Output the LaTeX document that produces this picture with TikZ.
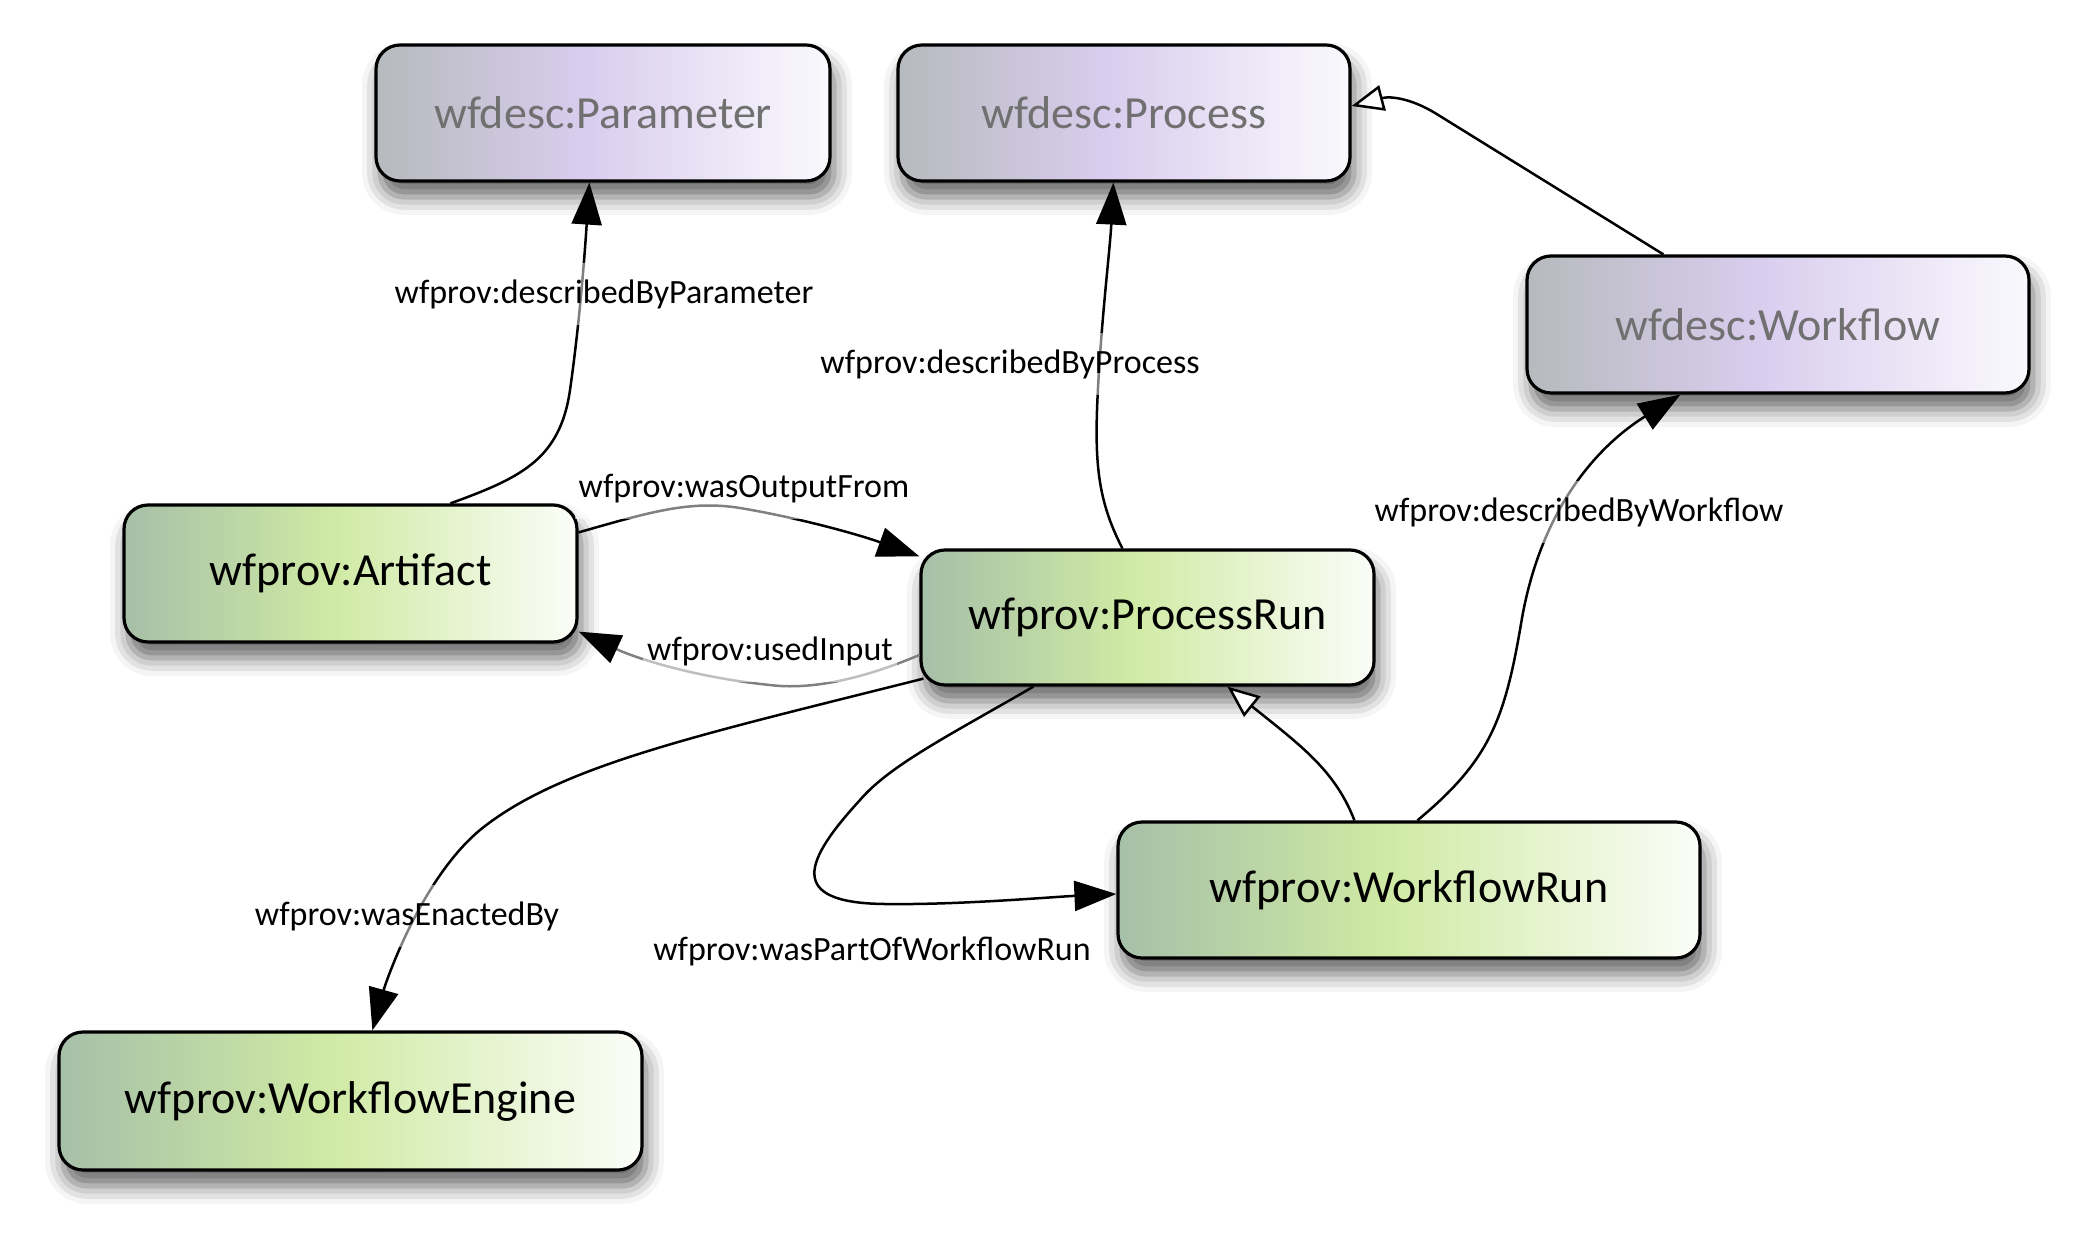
\documentclass[tikz,border=0pt]{standalone}
\usepackage{fontspec}
\setmainfont{Carlito}
\usetikzlibrary{arrows.meta,shadows.blur}
\definecolor{gA}{HTML}{A6BFA8}
\definecolor{gB}{HTML}{CFEAA4}
\definecolor{gC}{HTML}{FBFDF8}
\definecolor{pA}{HTML}{B6BABD}
\definecolor{pB}{HTML}{D9CDEE}
\definecolor{pC}{HTML}{FAF9FD}
\definecolor{desctext}{HTML}{707070}
\pgfdeclarehorizontalshading{provshade}{100bp}{color(0bp)=(gA); color(25bp)=(gA); color(48bp)=(gB); color(75bp)=(gC); color(100bp)=(gC)}
\pgfdeclarehorizontalshading{descshade}{100bp}{color(0bp)=(pA); color(25bp)=(pA); color(48bp)=(pB); color(75bp)=(pC); color(100bp)=(pC)}
\tikzset{
  box/.style={draw=black, line width=1.6pt, rounded corners=12pt, inner sep=0pt,
    font=\fontsize{23}{27}\selectfont,
    blur shadow={shadow xshift=2pt, shadow yshift=-8pt, shadow blur radius=9pt, shadow opacity=60}},
  provbox/.style={box, shading=provshade, shading angle=0, text=black},
  descbox/.style={box, shading=descshade, shading angle=0, text=desctext},
  rel/.style={line width=1.25pt, draw=black, -{Triangle[length=21pt,width=15pt]}},
  sub/.style={line width=1.25pt, draw=black, -{Triangle[open,length=16pt,width=13pt,fill=white]}},
  lbl/.style={font=\fontsize{17}{20}\selectfont, fill=white, fill opacity=0.5, text opacity=1,
    inner xsep=2pt, inner ysep=8pt}
}
\begin{document}
\begin{tikzpicture}[x=0.5pt,y=-0.5pt]
\useasboundingbox (0,0) rectangle (2086,1236);
% nodes
\node[descbox, minimum width=227pt, minimum height=68pt] (par) at (603,113) {wfdesc:Parameter};
\node[descbox, minimum width=226pt, minimum height=68pt] (proc) at (1124,113) {wfdesc:Process};
\node[descbox, minimum width=251pt, minimum height=68.5pt] (wf) at (1778,324.5) {wfdesc:Workflow};
\node[provbox, minimum width=226.5pt, minimum height=68.5pt] (art) at (350.5,573.5) {wfprov:Artifact};
\node[provbox, minimum width=226.5pt, minimum height=67.5pt] (pr) at (1147.5,617.5) {wfprov:ProcessRun};
\node[provbox, minimum width=291pt, minimum height=68pt] (wr) at (1409,890) {wfprov:WorkflowRun};
\node[provbox, minimum width=291.5pt, minimum height=69pt] (eng) at (350.5,1101) {wfprov:WorkflowEngine};
% edges
\draw[rel] ([xshift=164pt]art.north west) .. controls (520,478) and (560,460) .. (570,390)
   .. controls (580,320) and (585,250) .. ([xshift=107.5pt]par.south west);
\draw[rel] ([xshift=101.5pt]pr.north west) .. controls (1100,505) and (1095,470) .. (1097,410)
   .. controls (1100,330) and (1110,250) .. ([xshift=108.5pt]proc.south west);
\draw[sub] ([xshift=69pt]wf.north west) -- (1435,113) .. controls (1410,98) and (1390,96) .. ([yshift=3.5pt]proc.east);
\draw[sub] ([xshift=119pt]wr.north west) .. controls (1335,770) and (1300,745) .. ([xshift=154pt]pr.south west);
\draw[rel] ([xshift=150.5pt]wr.north west) .. controls (1490,760) and (1505,720) .. (1522,618)
   .. controls (1545,490) and (1615,435) .. ([xshift=77.5pt]wf.south west);
\draw[rel] ([yshift=-14.5pt]art.north east) .. controls (650,512) and (690,500) .. (740,508)
   .. controls (800,518) and (860,535) .. ([yshift=-4pt]pr.north west);
\draw[rel, draw=black!50, -{Triangle[length=21pt,width=15pt,color=black]}] ([yshift=-18.75pt]pr.west) .. controls (860,680) and (810,690) .. (770,685)
   .. controls (700,678) and (640,660) .. ([yshift=6pt]art.south east);
\draw[rel] ([xshift=2pt,yshift=4pt]pr.south west) .. controls (700,735) and (560,765) .. (480,830)
   .. controls (420,880) and (385,985) .. ([xshift=157.5pt]eng.north west);
\draw[rel] ([xshift=57pt]pr.south west) .. controls (950,735) and (890,765) .. (860,800)
   .. controls (805,860) and (785,903) .. (885,904) .. controls (960,905) and (1050,897) .. ([yshift=-2pt]wr.west);
% labels
\node[lbl] (l1) at (604,294) {wfprov:describedByParameter};
\node[lbl] (l2) at (1010,364) {wfprov:describedByProcess};
\node[lbl] (l3) at (1579,512) {wfprov:describedByWorkflow};
\node[lbl] (l4) at (744,489) {wfprov:wasOutputFrom};
\node[lbl] (l5) at (770,651) {wfprov:usedInput};
\node[lbl] (l6) at (407,916) {wfprov:wasEnactedBy};
\node[lbl] (l7) at (872,951) {wfprov:wasPartOfWorkflowRun};
\end{tikzpicture}
\end{document}
